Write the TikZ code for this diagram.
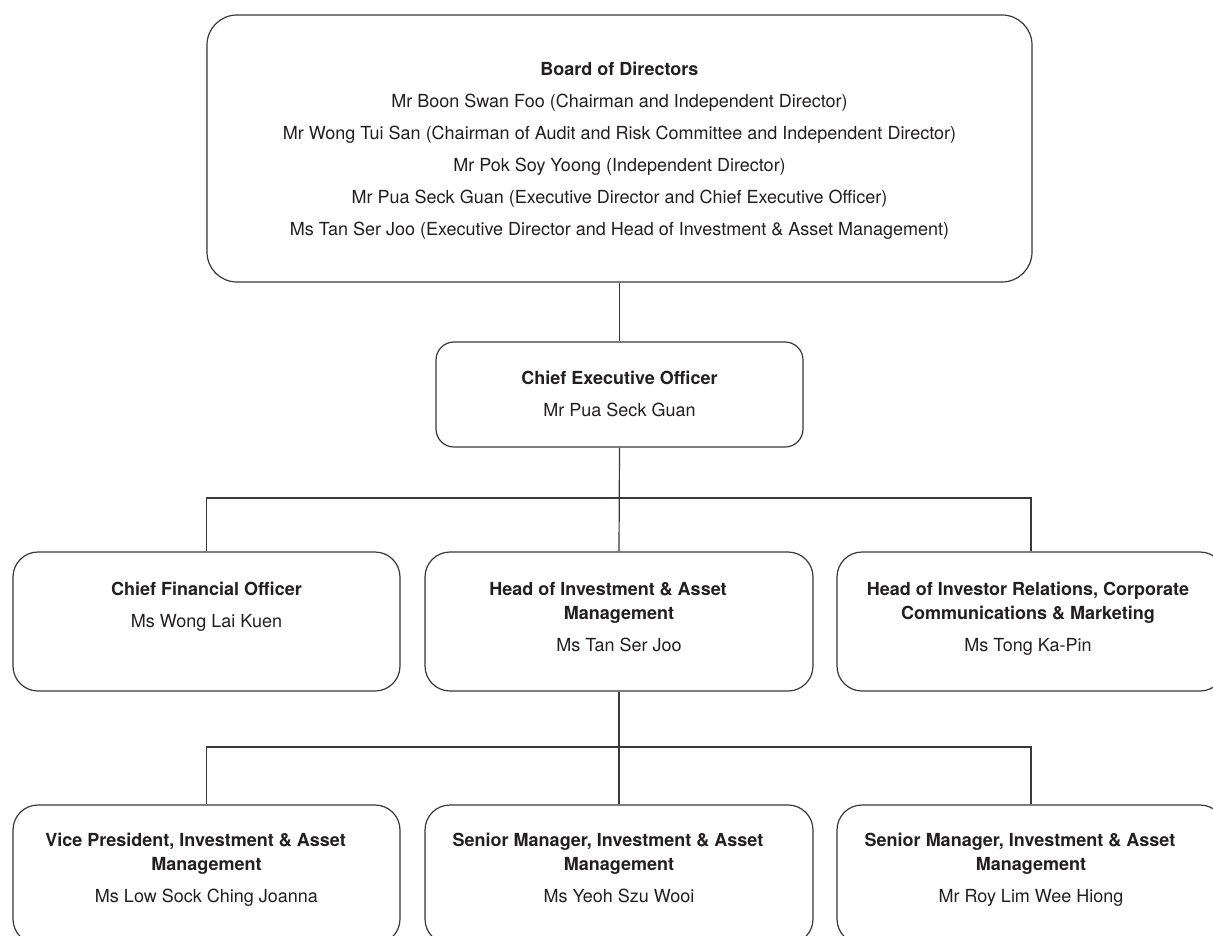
\documentclass[tikz,border=0pt]{standalone}
\usepackage{fontspec}
\setmainfont{TeX Gyre Heros}
\definecolor{ink}{HTML}{231F20}
\definecolor{rulegray}{HTML}{3A3838}
\begin{document}
\begin{tikzpicture}[x=1pt,y=-1pt,
  box/.style={draw=rulegray, line width=1.2pt, rectangle, inner sep=0pt},
  % anchored on the baseline of the last line
  txt/.style={text=ink, align=center, inner sep=0pt, anchor=base},
  wide/.style={font=\fontsize{18}{32}\selectfont},
  tight/.style={font=\fontsize{18}{24}\selectfont},
  link/.style={draw=rulegray, line width=1.2pt}]
\useasboundingbox (0,0) rectangle (1213,935);
\fill[white] (0,0) rectangle (1213,935);
\clip (0,0) rectangle (1213,935);

% Board
\node[box, rounded corners=30pt, minimum width=825pt, minimum height=267pt] (board) at (619.5,148.5) {};
\node[txt, wide] (boardtxt) at (619.5,235) {\textbf{Board of Directors}\\
Mr Boon Swan Foo (Chairman and Independent Director)\\
Mr Wong Tui San (Chairman of Audit and Risk Committee and Independent Director)\\
Mr Pok Soy Yoong (Independent Director)\\
Mr Pua Seck Guan (Executive Director and Chief Executive Officer)\\
Ms Tan Ser Joo (Executive Director and Head of Investment \& Asset Management)};

% CEO
\node[box, rounded corners=18pt, minimum width=367pt, minimum height=105pt] (ceo) at (619.5,394.5) {};
\node[txt, wide] (ceotxt) at (619.5,416) {\textbf{Chief Executive Officer}\\Mr Pua Seck Guan};

% Second level
\node[box, rounded corners=25pt, minimum width=387pt, minimum height=139pt] (cfo) at (206.5,621.5) {};
\node[box, rounded corners=25pt, minimum width=388pt, minimum height=139pt] (ima) at (619,621.5) {};
\node[box, rounded corners=25pt, minimum width=388pt, minimum height=139pt] (ir) at (1031,621.5) {};
\node[txt, wide] (cfotxt) at (206.5,627) {\textbf{Chief Financial Officer}\\Ms Wong Lai Kuen};
\node[txt, tight] (imatxt) at (619,651) {\textbf{Head of Investment \& Asset}\hspace*{22pt}\\
\textbf{Management}\\[8pt]Ms Tan Ser Joo};
\node[txt, tight] (irtxt) at (1028,651) {\textbf{Head of Investor Relations, Corporate}\\
\textbf{Communications \& Marketing}\\[8pt]Ms Tong Ka-Pin};

% Third level
\node[box, rounded corners=25pt, minimum width=387pt, minimum height=139pt] (vp) at (206.5,874.5) {};
\node[box, rounded corners=25pt, minimum width=388pt, minimum height=139pt] (smA) at (619,874.5) {};
\node[box, rounded corners=25pt, minimum width=388pt, minimum height=139pt] (smB) at (1031,874.5) {};
\node[txt, tight] (vptxt) at (206.5,902) {\textbf{Vice President, Investment \& Asset}\hspace*{22pt}\\
\textbf{Management}\\[8pt]Ms Low Sock Ching Joanna};
\node[txt, tight] (smAtxt) at (619,902) {\textbf{Senior Manager, Investment \& Asset}\hspace*{22pt}\\
\textbf{Management}\\[8pt]Ms Yeoh Szu Wooi};
\node[txt, tight] (smBtxt) at (1031,902) {\textbf{Senior Manager, Investment \& Asset}\hspace*{22pt}\\
\textbf{Management}\\[8pt]Mr Roy Lim Wee Hiong};

% Connectors
\coordinate (busA) at (619.5,498);
\coordinate (busB) at (619,747);
\draw[link] (board.south) -- (ceo.north);
\draw[link] (ceo.south) -- (ima.north);
\draw[link] (cfo.north) |- (busA) -| (ir.north);
\draw[link] (ima.south) -- (smA.north);
\draw[link] (vp.north) |- (busB) -| (smB.north);
\end{tikzpicture}
\end{document}
